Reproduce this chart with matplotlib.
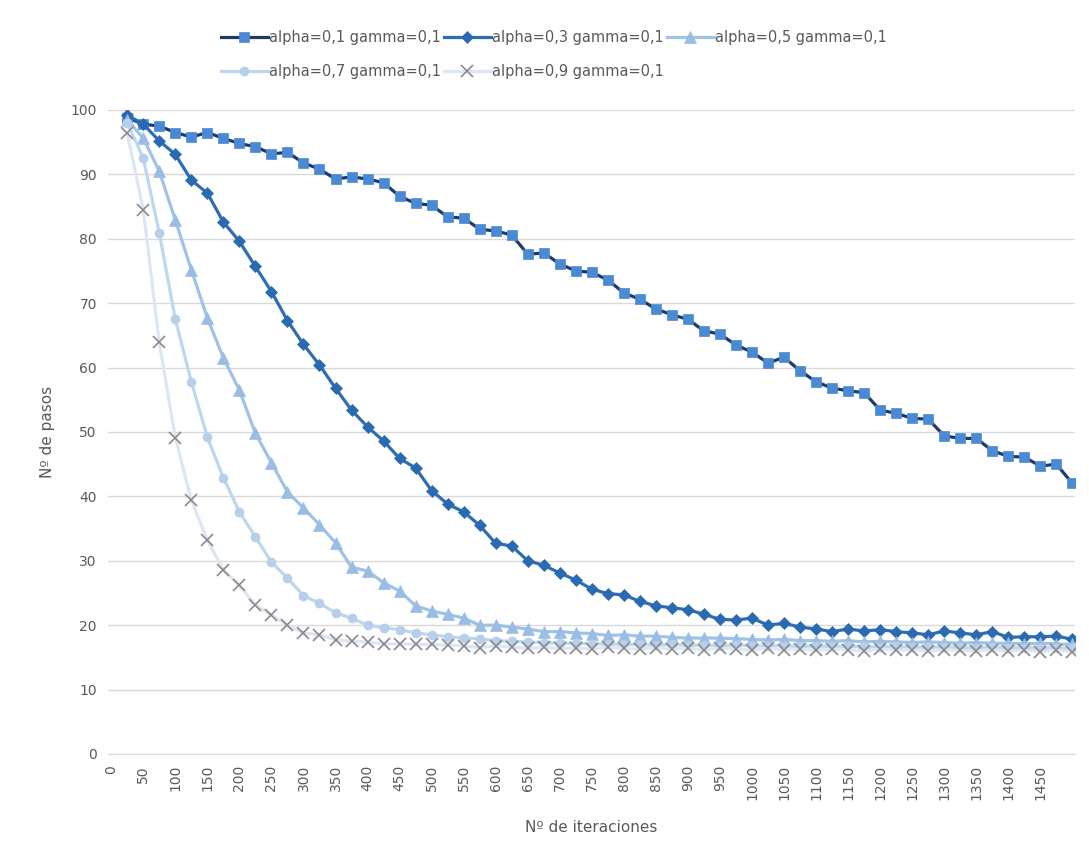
import matplotlib
matplotlib.use("Agg")
import matplotlib.pyplot as plt
import numpy as np

# iterations (x axis)
iteraciones = [25 * i for i in range(1, 61)]

labels = ["alpha=0,1 gamma=0,1", "alpha=0,3 gamma=0,1", "alpha=0,5 gamma=0,1",
          "alpha=0,7 gamma=0,1", "alpha=0,9 gamma=0,1"]

pasos_a01 = [98.8, 97.8, 97.5, 96.5, 95.8, 96.5, 95.6, 94.8, 94.3, 93.2,
             93.4, 91.8, 90.8, 89.3, 89.6, 89.3, 88.7, 86.6, 85.5, 85.2,
             83.4, 83.2, 81.5, 81.2, 80.6, 77.6, 77.8, 76.1, 75.0, 74.8,
             73.6, 71.6, 70.6, 69.1, 68.2, 67.5, 65.7, 65.2, 63.5, 62.4,
             60.7, 61.6, 59.5, 57.8, 56.8, 56.4, 56.1, 53.4, 52.9, 52.1,
             52.0, 49.4, 49.0, 49.0, 47.1, 46.2, 46.1, 44.7, 45.0, 42.0]

pasos_a03 = [99.2, 97.8, 95.2, 93.1, 89.1, 87.1, 82.6, 79.6, 75.7, 71.8,
             67.3, 63.6, 60.4, 56.8, 53.4, 50.8, 48.6, 45.9, 44.4, 40.9,
             38.8, 37.6, 35.5, 32.7, 32.3, 30.0, 29.3, 28.1, 27.0, 25.6,
             24.9, 24.7, 23.7, 23.0, 22.7, 22.4, 21.7, 20.9, 20.8, 21.1,
             20.0, 20.3, 19.7, 19.4, 19.0, 19.4, 19.1, 19.3, 19.0, 18.8,
             18.5, 19.1, 18.8, 18.5, 19.0, 18.1, 18.2, 18.2, 18.3, 17.8]

pasos_a05 = [98.5, 95.6, 90.5, 82.9, 75.2, 67.7, 61.5, 56.5, 49.8, 45.2,
             40.7, 38.2, 35.6, 32.8, 29.0, 28.4, 26.6, 25.3, 23.0, 22.2,
             21.7, 21.1, 20.0, 20.0, 19.7, 19.4, 19.0, 19.0, 18.8, 18.7,
             18.4, 18.5, 18.3, 18.3, 18.1, 18.0, 18.0, 18.0, 17.9, 17.8,
             17.7, 17.8, 17.6, 17.6, 17.5, 17.6, 17.4, 17.5, 17.4, 17.3,
             17.4, 17.3, 17.2, 17.3, 17.2, 17.2, 17.1, 17.2, 17.1, 17.0]

pasos_a07 = [98.0, 92.5, 80.9, 67.5, 57.8, 49.2, 42.9, 37.6, 33.7, 29.8,
             27.3, 24.6, 23.4, 21.9, 21.1, 20.0, 19.6, 19.3, 18.8, 18.5,
             18.2, 18.0, 17.9, 17.6, 17.5, 17.4, 17.3, 17.2, 17.2, 17.1,
             17.1, 17.0, 17.0, 16.9, 17.0, 16.9, 16.9, 16.8, 16.9, 16.8,
             16.8, 16.8, 16.7, 16.8, 16.7, 16.7, 16.7, 16.6, 16.7, 16.6,
             16.6, 16.6, 16.6, 16.5, 16.6, 16.5, 16.5, 16.5, 16.5, 16.4]

pasos_a09 = [96.4, 84.5, 63.9, 49.1, 39.4, 33.2, 28.6, 26.2, 23.1, 21.6,
             20.0, 18.8, 18.5, 17.7, 17.5, 17.4, 17.1, 17.1, 17.0, 17.0,
             16.9, 16.8, 16.5, 16.8, 16.6, 16.4, 16.6, 16.4, 16.5, 16.3,
             16.6, 16.4, 16.3, 16.5, 16.3, 16.4, 16.2, 16.4, 16.3, 16.1,
             16.4, 16.2, 16.3, 16.1, 16.3, 16.2, 16.0, 16.3, 16.1, 16.2,
             16.0, 16.2, 16.1, 16.0, 16.2, 16.0, 16.1, 15.9, 16.1, 15.9]

xticks = list(range(0, 1500, 50))
yticks = list(range(0, 101, 10))

gris = '#595959'


def main():
    plt.rcParams['font.family'] = ['DejaVu Sans']
    fig = plt.figure(figsize=(10.89, 8.6), dpi=100, facecolor='w')
    ax = fig.add_axes([0.0992, 0.1233, 0.8879, 0.7488])

    # (data, line colour, marker, marker colour, marker size)
    estilos = [
        (pasos_a01, '#203A66', 's', '#4A8AD4', 7.5),
        (pasos_a03, '#2E6DB4', 'D', '#2A6AB2', 6.5),
        (pasos_a05, '#9DC3E6', '^', '#99BDE4', 8),
        (pasos_a07, '#BDD7EE', 'o', '#B6CFEB', 6.5),
        (pasos_a09, '#DCE6F4', 'x', '#8A8A8A', 8),
    ]
    handles = []
    for (datos, color, marker, mcolor, ms), lab in zip(estilos, labels):
        h, = ax.plot(iteraciones, datos, color=color, linewidth=2.3,
                     marker=marker, markersize=ms, markerfacecolor=mcolor,
                     markeredgecolor=mcolor, markeredgewidth=1.2 if marker == 'x' else 0.5,
                     label=lab, zorder=3)
        handles.append(h)

    ax.set_xlim(-5, 1504)
    ax.set_ylim(0, 100)
    ax.set_xticks(xticks)
    ax.set_xticklabels([str(t) for t in xticks], rotation=90)
    ax.set_yticks(yticks)
    ax.tick_params(axis='both', length=0, labelsize=10, colors=gris)
    ax.tick_params(axis='x', pad=8)
    ax.tick_params(axis='y', pad=8)

    ax.grid(axis='y', color='#D9D9D9', linewidth=1)
    ax.set_axisbelow(True)
    for side in ['left', 'right', 'top']:
        ax.spines[side].set_visible(False)
    ax.spines['bottom'].set_color('#D9D9D9')

    ax.set_xlabel("Nº de iteraciones", color=gris, fontsize=11, labelpad=14)
    ax.set_ylabel("Nº de pasos", color=gris, fontsize=11, labelpad=11)

    # legend in row order: reorder handles for column-wise filling
    order = [0, 3, 1, 4, 2]
    leg = fig.legend([handles[i] for i in order], [labels[i] for i in order],
                     loc='upper left', bbox_to_anchor=(0.191, 0.980), ncol=3,
                     frameon=False, fontsize=10.5, handlelength=3.2,
                     handletextpad=0.1, columnspacing=0.2, labelspacing=1.3)
    for t in leg.get_texts():
        t.set_color(gris)

    plt.savefig('out.png', dpi=100, facecolor='w')
    plt.close()


if __name__ == '__main__':
    main()
